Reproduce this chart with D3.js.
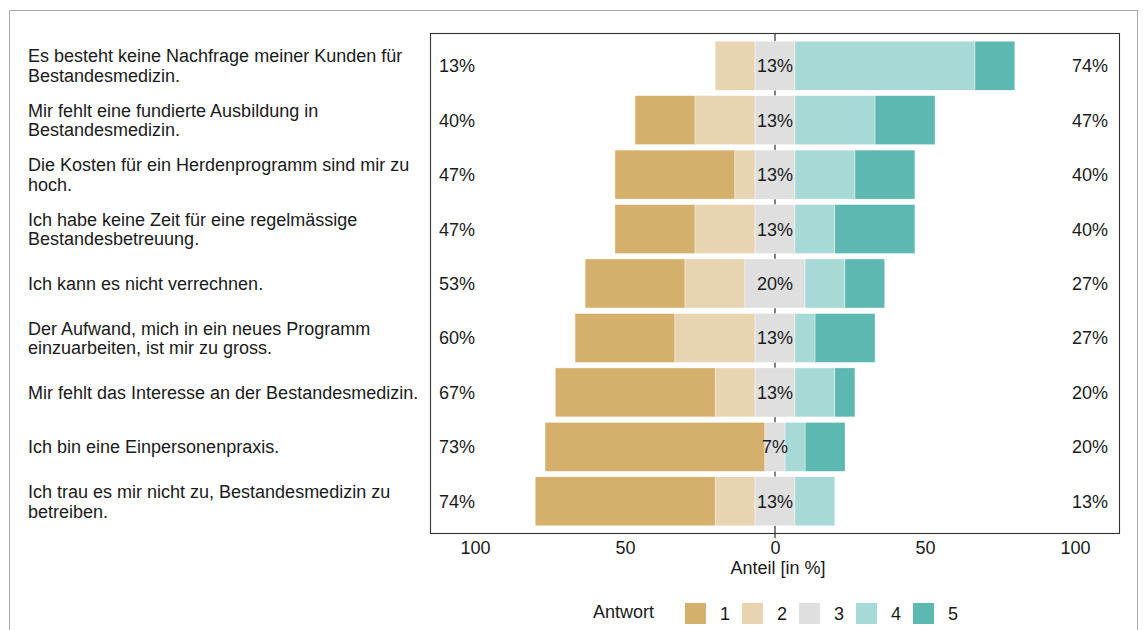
<!DOCTYPE html>
<html>
<head>
<meta charset="utf-8">
<script src="https://cdn.jsdelivr.net/npm/d3@7"></script>
<style>
  body { margin: 0; background: #fff; }
  svg text { font-family: "Liberation Sans", Arial, sans-serif; fill: #1a1a1a; }
</style>
</head>
<body>
<svg id="drawing_region"></svg>
<script>
const items = [
    ["Es besteht keine Nachfrage meiner Kunden für", "Bestandesmedizin."],
    ["Mir fehlt eine fundierte Ausbildung in", "Bestandesmedizin."],
    ["Die Kosten für ein Herdenprogramm sind mir zu", "hoch."],
    ["Ich habe keine Zeit für eine regelmässige", "Bestandesbetreuung."],
    ["Ich kann es nicht verrechnen."],
    ["Der Aufwand, mich in ein neues Programm", "einzuarbeiten, ist mir zu gross."],
    ["Mir fehlt das Interesse an der Bestandesmedizin."],
    ["Ich bin eine Einpersonenpraxis."],
    ["Ich trau es mir nicht zu, Bestandesmedizin zu", "betreiben."]
];

const levels = ["1", "2", "3", "4", "5"];
const colors = ["#d4b06c", "#e8d4b0", "#dfdfe0", "#a7d9d6", "#5cb8b0"];

// share of answers per level [in %], one row per item
const answer1 = [0, 20, 40, 26.7, 33.3, 33.3, 53.3, 73.3, 60];
const answer2 = [13.3, 20, 6.7, 20, 20, 26.7, 13.3, 0, 13.3];
const answer3 = [13.3, 13.3, 13.3, 13.3, 20, 13.3, 13.3, 6.7, 13.3];
const answer4 = [60, 26.7, 20, 13.3, 13.3, 6.7, 13.3, 6.7, 13.3];
const answer5 = [13.3, 20, 20, 26.7, 13.3, 20, 6.7, 13.3, 0];

const lowLabels = ["13%", "40%", "47%", "47%", "53%", "60%", "67%", "73%", "74%"];
const midLabels = ["13%", "13%", "13%", "13%", "20%", "13%", "13%", "7%", "13%"];
const highLabels = ["74%", "47%", "40%", "40%", "27%", "27%", "20%", "20%", "13%"];

const xTicks = [-100, -50, 0, 50, 100];

const config = {
    width: 1143,
    height: 630,
    panel: {left: 430, right: 1120, top: 33, bottom: 534},
    fontSize: 18
};

const svg = d3.select('#drawing_region')
    .attr('width', config.width)
    .attr('height', config.height);

// outer figure frame
svg.append('rect')
    .attr('x', 9.5).attr('y', 10.5)
    .attr('width', 1128).attr('height', 650)
    .attr('fill', 'none')
    .attr('stroke', '#a8a8a8');

const p = config.panel;
const x = d3.scaleLinear().domain([-115, 115]).range([p.left, p.right]);
const y = d3.scalePoint().domain(d3.range(items.length)).range([p.top, p.bottom]).padding(0.6);
const barH = y.step() * 0.9;

const series = [answer1, answer2, answer3, answer4, answer5];
const rows = items.map((it, i) => {
    const v = series.map(s => s[i]);
    let start = -(v[0] + v[1] + v[2] / 2);
    return v.map((val, k) => {
        const seg = {row: i, level: k, x0: start, x1: start + val};
        start += val;
        return seg;
    });
});

// panel background
svg.append('rect')
    .attr('x', p.left).attr('y', p.top)
    .attr('width', p.right - p.left).attr('height', p.bottom - p.top)
    .attr('fill', '#fff');

// zero line
svg.append('line')
    .attr('x1', x(0)).attr('x2', x(0))
    .attr('y1', p.top).attr('y2', p.bottom + 4)
    .attr('stroke', '#1a1a1a').attr('stroke-width', 1.1);

svg.append('g')
    .selectAll('rect')
    .data(rows.flat().filter(d => d.x1 > d.x0))
    .join('rect')
    .attr('x', d => x(d.x0))
    .attr('width', d => x(d.x1) - x(d.x0))
    .attr('y', d => y(d.row) - barH / 2)
    .attr('height', barH)
    .attr('fill', d => colors[d.level])
    .attr('stroke', '#fff')
    .attr('stroke-width', 0.4);

// percent labels
const labels = svg.append('g').attr('font-size', config.fontSize);
labels.selectAll('.low').data(lowLabels).join('text')
    .attr('x', p.left + 9).attr('y', (d, i) => y(i))
    .attr('dy', '0.36em')
    .text(d => d);
labels.selectAll('.mid').data(midLabels).join('text')
    .attr('x', x(0)).attr('y', (d, i) => y(i))
    .attr('dy', '0.36em').attr('text-anchor', 'middle')
    .text(d => d);
labels.selectAll('.high').data(highLabels).join('text')
    .attr('x', p.right - 12).attr('y', (d, i) => y(i))
    .attr('dy', '0.36em').attr('text-anchor', 'end')
    .text(d => d);

// panel border
svg.append('rect')
    .attr('x', p.left + 0.5).attr('y', p.top + 0.5)
    .attr('width', p.right - p.left - 1).attr('height', p.bottom - p.top - 1)
    .attr('fill', 'none')
    .attr('stroke', '#333').attr('stroke-width', 1.1);

// item labels
const lineH = 19.5;
const itemG = svg.append('g').attr('font-size', config.fontSize);
items.forEach((lines, i) => {
    const t = itemG.append('text')
        .attr('x', 28)
        .attr('y', y(i) - (lines.length - 1) * lineH / 2);
    lines.forEach((l, k) => {
        t.append('tspan')
            .attr('x', 28)
            .attr('dy', k === 0 ? '0.36em' : lineH)
            .text(l);
    });
});

// x axis
const xAxis = svg.append('g')
    .attr('transform', `translate(0, ${p.bottom})`)
    .call(d3.axisBottom(x).tickValues(xTicks).tickSize(0).tickPadding(7).tickFormat(d => Math.abs(d)));
xAxis.select('.domain').remove();
xAxis.selectAll('text')
    .attr('font-size', config.fontSize)
    .attr('font-family', '"Liberation Sans", Arial, sans-serif')
    .attr('fill', '#1a1a1a');

svg.append('text')
    .attr('x', x(0) + 3).attr('y', 574)
    .attr('text-anchor', 'middle')
    .attr('font-size', config.fontSize)
    .text('Anteil [in %]');

// legend
const legend = svg.append('g').attr('font-size', config.fontSize);
legend.append('text').attr('x', 593).attr('y', 618).text('Antwort');
const key = legend.selectAll('g.key').data(levels).join('g')
    .attr('transform', (d, i) => `translate(${685 + i * 57}, 603)`);
key.append('rect')
    .attr('width', 21).attr('height', 21)
    .attr('fill', (d, i) => colors[i]);
key.append('text')
    .attr('x', 35).attr('y', 16.5)
    .text(d => d);
</script>
</body>
</html>
